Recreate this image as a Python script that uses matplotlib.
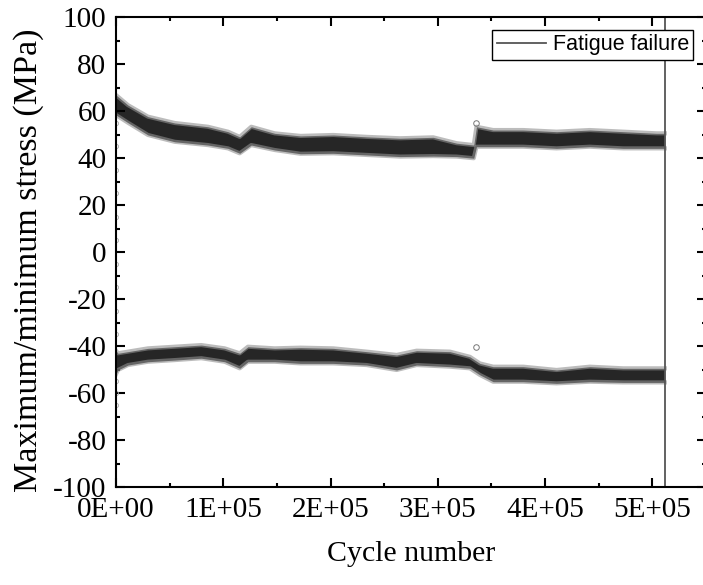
#plotting script
import matplotlib
matplotlib.use('Agg')
import matplotlib.pyplot as plt
from matplotlib.ticker import MultipleLocator
from matplotlib.lines import Line2D

# band of maximum stress (upper / lower edge of the scatter cloud), MPa
max_cycles = [0, 11200, 29800, 54700, 85700, 104400, 115300, 126100, 147900, 172000,
              202500, 233600, 264700, 295700, 317500, 333500, 336000, 351600, 379600,
              410700, 441700, 472800, 503900, 511600]
max_hi = [66.8, 62.5, 57.6, 54.9, 53.3, 51.2, 49.0, 53.3, 50.5, 49.4,
          49.8, 49.0, 48.4, 48.8, 46.3, 45.5, 53.3, 51.9, 51.9,
          51.2, 51.9, 51.2, 50.5, 50.5]
max_lo = [58.3, 55.0, 49.8, 46.9, 45.5, 44.1, 42.0, 45.5, 43.4, 41.8,
          42.0, 41.3, 40.6, 40.8, 40.6, 39.9, 44.8, 44.8, 44.8,
          44.1, 44.8, 44.1, 44.1, 44.1]

# band of minimum stress
min_cycles = [0, 1900, 11200, 29800, 54700, 79500, 101300, 115300, 123000, 147900,
              172000, 202500, 233600, 261600, 280200, 311300, 329900, 339200, 351600,
              379600, 410700, 441700, 472800, 503900, 511600]
min_hi = [-42.0, -43.1, -42.4, -41.0, -40.3, -39.6, -41.0, -43.1, -40.3, -41.0,
          -40.7, -41.0, -42.4, -43.8, -42.0, -42.4, -44.6, -47.4, -48.8,
          -48.8, -50.2, -48.8, -49.5, -49.5, -49.5]
min_lo = [-52.0, -50.2, -48.1, -46.7, -46.0, -45.2, -46.7, -49.5, -46.7, -46.7,
          -47.4, -47.4, -48.1, -50.2, -48.1, -48.8, -49.5, -52.3, -55.2,
          -55.2, -55.9, -55.2, -55.5, -55.5, -55.5]

# loading ramp points at the very start and a few outliers
ramp_cycles = [300, 300, 300, 300, 300, 300, 300, 300, 300, 300, 300, 300, 300]
ramp_stress = [55, 45, 35, 25, 15, 5, -5, -15, -25, -35, -55, -60, -65]
outlier_cycles = [336000, 336000]
outlier_stress = [54.8, -40.3]

failure_cycle = 511600

xtick_vals = [0, 100000, 200000, 300000, 400000, 500000]
xtick_labels = ['0E+00', '1E+05', '2E+05', '3E+05', '4E+05', '5E+05']

plt.rcParams['font.family'] = 'Liberation Serif'
plt.rcParams['axes.unicode_minus'] = False

fig = plt.figure(figsize=(7.03, 5.85), dpi=100)
ax = fig.add_axes([116/703., 1-487/585., 590/703., 470/585.])

# the scatter clouds, drawn as dark bands with grey fuzzy edges
for cyc, hi, lo in [(max_cycles, max_hi, max_lo), (min_cycles, min_hi, min_lo)]:
    ax.fill_between(cyc, lo, hi, color='#262626', lw=0)
    ax.plot(cyc, hi, color='#909090', lw=3, alpha=0.6, solid_joinstyle='round')
    ax.plot(cyc, lo, color='#909090', lw=3, alpha=0.6, solid_joinstyle='round')

ax.plot(ramp_cycles, ramp_stress, 'o', mfc='none', mec='#aaaaaa', ms=3, mew=0.6)
ax.plot(outlier_cycles, outlier_stress, 'o', mfc='none', mec='#777777', ms=4, mew=0.7)

ax.axvline(failure_cycle, color='#555555', lw=1.3)

ax.set_xlim(0, 550000)
ax.set_ylim(-100, 100)
ax.set_xticks(xtick_vals)
ax.set_xticklabels(xtick_labels)
ax.xaxis.set_minor_locator(MultipleLocator(50000))
ax.yaxis.set_major_locator(MultipleLocator(20))
ax.yaxis.set_minor_locator(MultipleLocator(10))

ax.tick_params(which='both', direction='in', top=True, right=True, width=1.5,
               labelsize=21, pad=7)
ax.tick_params(which='major', length=6.5)
ax.tick_params(which='minor', length=3.2)
for sp in ax.spines.values():
    sp.set_linewidth(1.5)

ax.set_xlabel('Cycle number', fontsize=21.5, labelpad=13)
ax.set_ylabel('Maximum/minimum stress (MPa)', fontsize=24.5)
ax.yaxis.set_label_coords(-0.122, 0.483)

h = Line2D([], [], color='#555555', lw=1.3)
leg = ax.legend([h], ['Fatigue failure'], loc='upper right',
                prop={'family': 'Liberation Sans', 'size': 15.5},
                fancybox=False, framealpha=1, edgecolor='black',
                borderpad=0.2, handletextpad=0.3, handlelength=2.3,
                borderaxespad=0.6)
leg.get_frame().set_linewidth(1.0)

fig.savefig('out.png', dpi=100)
